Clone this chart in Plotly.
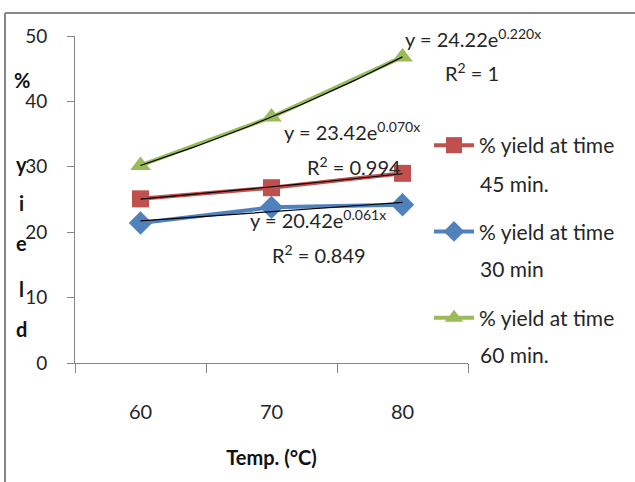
import numpy as np
import plotly.graph_objects as go

# ---- data ----
temps = ["60", "70", "80"]
yield_45 = [25.1, 26.8, 29.0]
yield_30 = [21.4, 23.8, 24.2]
yield_60 = [30.2, 37.6, 46.8]
legend_line1 = ["% yield at time", "% yield at time", "% yield at time"]
legend_line2 = ["45 min.", "30 min", "60 min."]
eq_texts = ["y = 23.42e<sup>0.070x</sup>", "y = 20.42e<sup>0.061x</sup>", "y = 24.22e<sup>0.220x</sup>"]
r2_texts = ["R<sup>2</sup> = 0.994", "R<sup>2</sup> = 0.849", "R<sup>2</sup> = 1"]
y_title_letters = ["%", "y", "i", "e", "l", "d"]
y_ticks = [0, 10, 20, 30, 40, 50]

FONT = "Lato, Liberation Sans, sans-serif"
TXT = "#262626"
colors = ["#C0504D", "#4F81BD", "#9BBB59"]
symbols = ["square", "diamond", "triangle-up"]

W, H = 635, 482
L, R, T, B = 75, 468, 36, 363


def px(x):
    return (x - L) / (R - L)


def py(y):
    return (B - y) / (B - T)


pos = np.arange(1, len(temps) + 1)
fig = go.Figure()
all_series = [yield_45, yield_30, yield_60]
sizes = [17, 18, 18]
for i, (vals, name) in enumerate(zip(all_series, legend_line1)):
    fig.add_trace(go.Scatter(
        x=pos, y=vals, mode="lines+markers", name=name,
        legendgroup=f"g{i}",
        line=dict(color=colors[i], width=4),
        marker=dict(symbol=symbols[i], size=sizes[i], color=colors[i]),
    ))

# exponential trendlines fitted from the data
xs = np.linspace(pos[0], pos[-1], 60)
for vals in all_series:
    b, ln_a = np.polyfit(pos, np.log(vals), 1)
    fig.add_trace(go.Scatter(
        x=xs, y=np.exp(ln_a) * np.exp(b * xs), mode="lines",
        line=dict(color="black", width=1.2), showlegend=False, hoverinfo="skip",
    ))

ann = []
eq_pos = [((282, 131), (305, 166)), ((248, 219), (270, 254)), ((403, 38), (443, 72))]
for (e, r), ((ex, ey), (rx, ry)) in zip(zip(eq_texts, r2_texts), eq_pos):
    ann.append(dict(text=e, x=px(ex), y=py(ey), xref="paper", yref="paper",
                    xanchor="left", yanchor="middle", showarrow=False,
                    font=dict(size=20, color=TXT, family=FONT)))
    ann.append(dict(text=r, x=px(rx), y=py(ry), xref="paper", yref="paper",
                    xanchor="left", yanchor="middle", showarrow=False,
                    font=dict(size=20, color=TXT, family=FONT)))

# second lines of the legend entries
for txt, ly in zip(legend_line2, [183, 268, 354]):
    ann.append(dict(text=txt, x=px(478), y=py(ly), xref="paper", yref="paper",
                    xanchor="left", yanchor="middle", showarrow=False,
                    font=dict(size=21, color=TXT, family=FONT)))

letter_y = [80, 164, 203, 243, 289, 329]
for ch, ly in zip(y_title_letters, letter_y):
    ann.append(dict(text=f"<b>{ch}</b>", x=px(22), y=py(ly), xref="paper", yref="paper",
                    xanchor="center", yanchor="middle", showarrow=False,
                    font=dict(size=20, color="#111", family=FONT)))

fig.update_layout(
    width=W, height=H,
    margin=dict(l=L, r=W - R, t=T, b=H - B),
    paper_bgcolor="white", plot_bgcolor="white",
    font=dict(family=FONT, size=21, color=TXT),
    xaxis=dict(
        range=[0.5, 3.5], tickvals=list(pos), ticktext=temps,
        ticks="", showgrid=False, zeroline=False,
        showline=True, linecolor="#868686", linewidth=1,
        ticklabelstandoff=31,
        tickfont=dict(size=20, family=FONT, color=TXT),
        minor=dict(tickvals=[0.5, 1.5, 2.5, 3.5], ticks="outside", ticklen=9,
                   tickcolor="#868686", tickwidth=1),
        title=dict(text="<b>Temp. (°C)</b>", font=dict(size=20, family=FONT, color="#111"),
                   standoff=28),
    ),
    yaxis=dict(
        range=[0, 50], tickvals=y_ticks, showgrid=False, zeroline=False,
        showline=True, linecolor="#868686", linewidth=1,
        ticks="outside", ticklen=7, tickcolor="#868686",
        ticklabelstandoff=16,
        tickfont=dict(size=19, family=FONT, color=TXT),
    ),
    legend=dict(
        x=px(429), y=py(125), xanchor="left", yanchor="top",
        font=dict(size=21, family=FONT, color=TXT),
        tracegroupgap=56, itemwidth=40,
        bgcolor="rgba(0,0,0,0)",
    ),
    annotations=ann,
    shapes=[
        dict(type="line", xref="paper", yref="paper", x0=px(5), x1=px(640), y0=py(13), y1=py(13),
             line=dict(color="#878787", width=2)),
        dict(type="line", xref="paper", yref="paper", x0=px(5), x1=px(5), y0=py(13), y1=py(490),
             line=dict(color="#878787", width=2)),
    ],
    showlegend=True,
)

fig.write_html("out.html", config={"displayModeBar": False},
               post_script="document.body.style.margin='0';document.body.style.overflow='hidden';")
